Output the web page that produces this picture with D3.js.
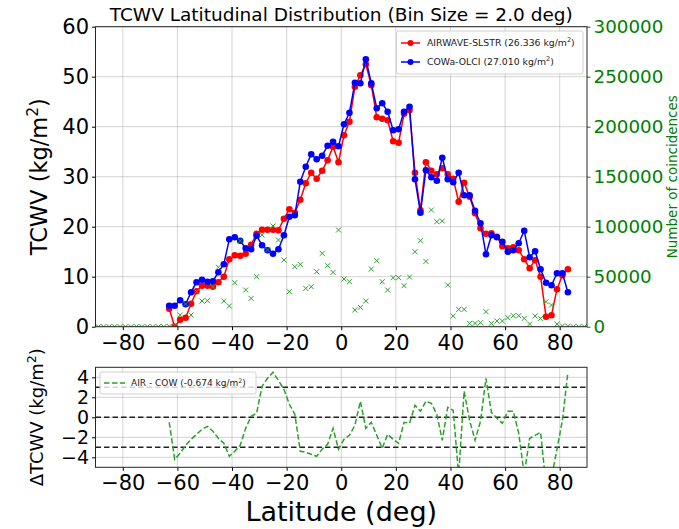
<!DOCTYPE html>
<html>
<head>
<meta charset="utf-8">
<script src="https://cdn.jsdelivr.net/npm/d3@7"></script>
<style>
  body { margin: 0; background: #fff; }
  text { font-family: "DejaVu Sans", sans-serif; }
</style>
</head>
<body>
<div id="vis-holder"></div>
<script>
// bin centres (2 deg bins)
const lats = [-89,-87,-85,-83,-81,-79,-77,-75,-73,-71,-69,-67,-65,-63,-61,-59,-57,-55,-53,-51,-49,-47,-45,-43,-41,-39,-37,-35,-33,-31,-29,-27,-25,-23,-21,-19,-17,-15,-13,-11,-9,-7,-5,-3,-1,
  1,3,5,7,9,11,13,15,17,19,21,23,25,27,29,31,33,35,37,39,41,43,45,47,49,51,53,55,57,59,61,63,65,67,69,71,73,75,77,79,81,83,85,87,89];

// AIRWAVE-SLSTR mean TCWV per bin (kg/m2), null = no data
const airwave = [null,null,null,null,null,null,null,null,null,null,null,null,null,
  3.6,0.0,1.4,1.8,4.6,7.1,8.2,8.2,8.0,8.9,10.0,13.5,14.3,14.2,14.6,16.4,18.6,19.4,19.4,19.4,19.3,21.6,23.5,22.8,25.4,28.7,30.8,29.6,31.2,33.3,36.0,32.9,
  38.3,41.0,48.0,50.3,52.5,48.3,41.9,41.6,41.3,37.1,36.8,42.6,43.3,30.8,23.3,32.9,31.2,30.5,31.7,30.5,29.6,25.0,28.8,26.0,22.7,19.7,18.6,18.7,18.0,16.1,15.7,15.9,15.3,13.5,11.7,13.3,10.0,2.0,2.3,7.5,10.3,11.5,
  null,null,null];

// COWa-OLCI mean TCWV per bin (kg/m2)
const cowa = [null,null,null,null,null,null,null,null,null,null,null,null,null,
  4.2,4.2,5.3,4.5,6.9,8.9,9.4,9.0,9.1,10.9,12.5,17.5,17.9,17.2,15.7,15.5,18.2,16.3,15.3,14.6,15.5,18.3,22.0,22.3,29.0,32.0,34.5,33.5,34.2,36.2,37.0,36.1,
  40.5,42.8,48.8,48.7,53.5,48.7,43.7,44.7,43.0,39.3,39.5,43.0,44.0,29.5,22.8,31.3,29.9,29.2,33.8,29.5,28.9,30.8,26.3,26.3,23.2,20.7,14.5,18.3,17.9,17.0,15.0,15.3,16.7,19.2,13.9,15.1,11.5,8.8,8.3,10.7,10.7,6.9,
  null,null,null];

// number of coincidences per bin
const counts = [0,0,0,0,0,0,0,0,0,0,0,0,0,
  300,800,11700,22700,11700,35000,25700,26000,40000,59400,25700,20700,44000,86000,36700,28300,50000,91700,76700,100700,86700,66700,35000,60000,62300,38300,40000,55000,73300,61000,54300,96700,
  47700,45000,16700,19300,25700,57700,66000,45000,36700,49000,49000,41000,49700,75000,86000,65300,116700,105000,105700,41700,10700,17300,17300,3300,3300,4000,15000,3300,5700,5700,9000,11000,11000,8300,2700,10700,8300,25000,21700,2700,700,400,
  0,0,0];

// AIR - COW difference per bin (kg/m2)
const diff = [null,null,null,null,null,null,null,null,null,null,null,null,null,
  -0.5,-4.2,-3.6,-2.8,-2.2,-1.7,-1.2,-0.9,-1.4,-2.1,-2.6,-3.9,-3.4,-2.8,-1.1,0.1,0.4,3.1,3.9,4.5,3.7,2.8,1.3,0.3,-3.4,-3.5,-3.7,-3.9,-3.2,-2.7,-1.1,-3.2,
  -2.2,-1.8,-0.8,1.6,-1.1,-0.5,-1.8,-3.1,-1.7,-2.2,-2.6,-0.5,-0.6,1.2,0.6,1.6,1.4,0.3,-2.3,1.0,0.7,-5.8,2.6,-0.3,-2.3,-0.4,3.9,0.5,-0.1,-0.6,0.6,0.6,-1.6,-5.7,-2.1,-1.8,-1.5,-6.8,-6.0,-3.2,-0.3,4.5,
  null,null,null];

const xTicks = [-80,-60,-40,-20,0,20,40,60,80];
const yTicks = [0,10,20,30,40,50,60];
const countTicks = [0,50000,100000,150000,200000,250000,300000];
const dTicks = [-4,-2,0,2,4];
const refLines = [-3,0,3];

const width = 679, height = 529;
const plotL = 95.5, plotR = 587;
const top1 = 26.7, bot1 = 326.7;   // upper panel
const top2 = 367.3, bot2 = 467.3;  // lower panel

const red = "#ff0000", blue = "#0000ff", green = "#2ca02c", darkGreen = "#008000";

const svg = d3.select("#vis-holder")
  .append("svg")
  .attr("width", width)
  .attr("height", height);

// scales
const x = d3.scaleLinear().domain([-90, 90]).range([plotL, plotR]);
const y = d3.scaleLinear().domain([0, 60]).range([bot1, top1]);
const yc = d3.scaleLinear().domain([0, 300000]).range([bot1, top1]);
const yd = d3.scaleLinear().domain([-5, 5]).range([bot2, top2]);

// clip paths for both panels
const defs = svg.append("defs");
defs.append("clipPath").attr("id", "clip1")
  .append("rect").attr("x", plotL).attr("y", top1).attr("width", plotR - plotL).attr("height", bot1 - top1);
defs.append("clipPath").attr("id", "clip2")
  .append("rect").attr("x", plotL).attr("y", top2).attr("width", plotR - plotL).attr("height", bot2 - top2);

// grid helper
function grid(g, yScale, yVals, t, b) {
  g.selectAll(".vx").data(xTicks).enter().append("line")
    .attr("x1", d => x(d)).attr("x2", d => x(d))
    .attr("y1", t).attr("y2", b);
  g.selectAll(".hy").data(yVals).enter().append("line")
    .attr("x1", plotL).attr("x2", plotR)
    .attr("y1", d => yScale(d)).attr("y2", d => yScale(d));
  g.attr("stroke", "#b0b0b0").attr("stroke-opacity", 0.55).attr("stroke-width", 1);
}

// ---------------- upper panel ----------------
grid(svg.append("g"), y, yTicks, top1, bot1);

const pts = lats.map((lat, i) => ({lat: lat, air: airwave[i], cow: cowa[i], n: counts[i], d: diff[i]}));
const airPts = pts.filter(p => p.air !== null);
const cowPts = pts.filter(p => p.cow !== null);

const up = svg.append("g").attr("clip-path", "url(#clip1)");

const lineAir = d3.line().x(d => x(d.lat)).y(d => y(d.air));
const lineCow = d3.line().x(d => x(d.lat)).y(d => y(d.cow));

up.append("path").datum(airPts)
  .attr("d", lineAir).attr("fill", "none").attr("stroke", red).attr("stroke-width", 1.5);
up.selectAll(".airdot").data(airPts).enter().append("circle")
  .attr("cx", d => x(d.lat)).attr("cy", d => y(d.air)).attr("r", 3.3).attr("fill", red);

up.append("path").datum(cowPts)
  .attr("d", lineCow).attr("fill", "none").attr("stroke", blue).attr("stroke-width", 1.5);
up.selectAll(".cowdot").data(cowPts).enter().append("circle")
  .attr("cx", d => x(d.lat)).attr("cy", d => y(d.cow)).attr("r", 3.3).attr("fill", blue);

// counts as green crosses (twin axis)
const s = 2.5;
up.selectAll(".cross").data(pts).enter().append("path")
  .attr("transform", d => `translate(${x(d.lat)},${yc(d.n)})`)
  .attr("d", `M${-s},${-s}L${s},${s}M${-s},${s}L${s},${-s}`)
  .attr("stroke", green).attr("stroke-width", 1).attr("fill", "none");

// axes
svg.append("g")
  .attr("transform", `translate(${plotL},0)`)
  .call(d3.axisLeft(y).tickValues(yTicks).tickSize(3.5).tickPadding(3))
  .call(g => g.select(".domain").remove())
  .attr("font-size", "21px").attr("font-family", "DejaVu Sans");

svg.append("g")
  .attr("transform", `translate(${plotR},0)`)
  .call(d3.axisRight(yc).tickValues(countTicks).tickSize(3.5).tickPadding(3).tickFormat(d3.format("d")))
  .call(g => g.select(".domain").remove())
  .call(g => g.selectAll("line").attr("stroke", darkGreen))
  .call(g => g.selectAll("text").attr("fill", darkGreen))
  .attr("font-size", "18.3px").attr("font-family", "DejaVu Sans");

svg.append("g")
  .attr("transform", `translate(0,${bot1})`)
  .call(d3.axisBottom(x).tickValues(xTicks).tickSize(3.5).tickPadding(4.5))
  .call(g => g.select(".domain").remove())
  .attr("font-size", "21px").attr("font-family", "DejaVu Sans");

svg.append("rect")
  .attr("x", plotL).attr("y", top1).attr("width", plotR - plotL).attr("height", bot1 - top1)
  .attr("fill", "none").attr("stroke", "#262626").attr("stroke-width", 1);

// title and labels
svg.append("text")
  .attr("x", (plotL + plotR) / 2).attr("y", 21)
  .attr("text-anchor", "middle").attr("font-size", "18.5px")
  .text("TCWV Latitudinal Distribution (Bin Size = 2.0 deg)");

const ylab = svg.append("text")
  .attr("transform", `translate(47,${(top1 + bot1) / 2}) rotate(-90)`)
  .attr("text-anchor", "middle").attr("font-size", "22.5px");
ylab.append("tspan").text("TCWV (kg/m");
ylab.append("tspan").attr("font-size", "15.5px").attr("dy", "-0.55em").text("2");
ylab.append("tspan").attr("dy", "0.38em").text(")");

svg.append("text")
  .attr("transform", `translate(677,${(top1 + bot1) / 2}) rotate(-90)`)
  .attr("text-anchor", "middle").attr("font-size", "13.5px").attr("fill", darkGreen)
  .text("Number of coincidences");

// legend upper
{
  const lg = svg.append("g");
  lg.append("rect")
    .attr("x", 396.5).attr("y", 31).attr("width", 186.5).attr("height", 43).attr("rx", 2)
    .attr("fill", "#fff").attr("fill-opacity", 0.8).attr("stroke", "#d0d0d0");
  const items = [
    {name: "AIRWAVE-SLSTR (26.336 kg/m", color: red},
    {name: "COWa-OLCI (27.010 kg/m", color: blue}
  ];
  items.forEach((it, i) => {
    const yy = 43 + i * 19;
    lg.append("line").attr("x1", 401).attr("x2", 420).attr("y1", yy).attr("y2", yy)
      .attr("stroke", it.color).attr("stroke-width", 1.5);
    lg.append("circle").attr("cx", 410.5).attr("cy", yy).attr("r", 3).attr("fill", it.color);
    const t = lg.append("text").attr("x", 427).attr("y", yy + 3.3).attr("font-size", "9.3px").attr("fill", "#222");
    t.append("tspan").text(it.name);
    t.append("tspan").attr("font-size", "6.5px").attr("dy", "-0.6em").text("2");
    t.append("tspan").attr("dy", "0.4em").text(")");
  });
}

// ---------------- lower panel ----------------
grid(svg.append("g"), yd, dTicks, top2, bot2);

const low = svg.append("g").attr("clip-path", "url(#clip2)");

low.selectAll(".ref").data(refLines).enter().append("line")
  .attr("x1", plotL).attr("x2", plotR)
  .attr("y1", d => yd(d)).attr("y2", d => yd(d))
  .attr("stroke", "#222").attr("stroke-width", 1.5).attr("stroke-dasharray", "5.5,3");

const diffPts = pts.filter(p => p.d !== null);
low.append("path").datum(diffPts)
  .attr("d", d3.line().x(d => x(d.lat)).y(d => yd(d.d)))
  .attr("fill", "none").attr("stroke", green).attr("stroke-width", 1.5).attr("stroke-dasharray", "5.5,2.5");

svg.append("g")
  .attr("transform", `translate(${plotL},0)`)
  .call(d3.axisLeft(yd).tickValues(dTicks).tickSize(3.5).tickPadding(3))
  .call(g => g.select(".domain").remove())
  .attr("font-size", "19px").attr("font-family", "DejaVu Sans");

svg.append("g")
  .attr("transform", `translate(0,${bot2})`)
  .call(d3.axisBottom(x).tickValues(xTicks).tickSize(3.5).tickPadding(4.5))
  .call(g => g.select(".domain").remove())
  .attr("font-size", "21px").attr("font-family", "DejaVu Sans");

svg.append("rect")
  .attr("x", plotL).attr("y", top2).attr("width", plotR - plotL).attr("height", bot2 - top2)
  .attr("fill", "none").attr("stroke", "#262626").attr("stroke-width", 1);

const dlab = svg.append("text")
  .attr("transform", `translate(43,${(top2 + bot2) / 2}) rotate(-90)`)
  .attr("text-anchor", "middle").attr("font-size", "18px");
dlab.append("tspan").text("ΔTCWV (kg/m");
dlab.append("tspan").attr("font-size", "12.5px").attr("dy", "-0.55em").text("2");
dlab.append("tspan").attr("dy", "0.38em").text(")");

svg.append("text")
  .attr("x", (plotL + plotR) / 2).attr("y", 521)
  .attr("text-anchor", "middle").attr("font-size", "27px")
  .text("Latitude (deg)");

// legend lower
{
  const lg = svg.append("g");
  lg.append("rect")
    .attr("x", 100).attr("y", 372).attr("width", 156).attr("height", 22).attr("rx", 2)
    .attr("fill", "#fff").attr("fill-opacity", 0.8).attr("stroke", "#d0d0d0");
  lg.append("line").attr("x1", 104).attr("x2", 125).attr("y1", 383).attr("y2", 383)
    .attr("stroke", green).attr("stroke-width", 1.5).attr("stroke-dasharray", "5.5,2.5");
  const t = lg.append("text").attr("x", 131).attr("y", 386.3).attr("font-size", "9px").attr("fill", "#222");
  t.append("tspan").text("AIR - COW (-0.674 kg/m");
  t.append("tspan").attr("font-size", "6.3px").attr("dy", "-0.6em").text("2");
  t.append("tspan").attr("dy", "0.4em").text(")");
}
</script>
</body>
</html>
